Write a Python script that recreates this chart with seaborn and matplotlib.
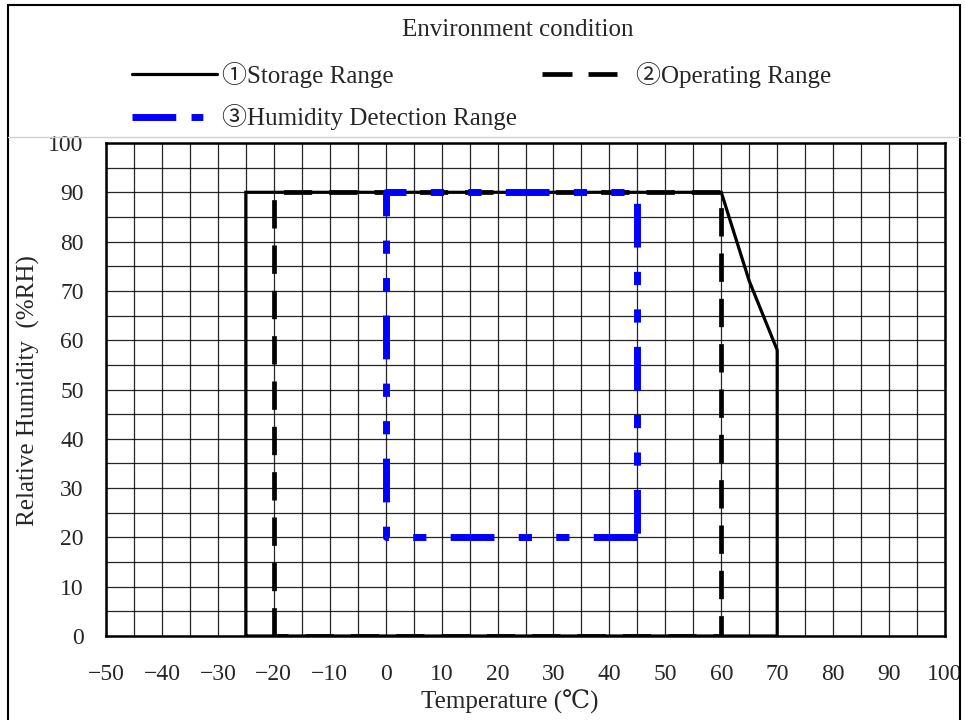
import numpy as np
import matplotlib.pyplot as plt
import seaborn as sns
from matplotlib.lines import Line2D
from matplotlib.patches import Rectangle

# ranges (temperature degC, relative humidity %RH)
storage_t = [-25, -25, 60, 65, 70, 70, -25]
storage_rh = [0, 90, 90, 72, 58, 0, 0]
operating_t = [-20, -20, 60, 60, -20]
operating_rh = [0, 90, 90, 0, 0]
humidity_t = [45, 0, 0, 45, 45]
humidity_rh = [20, 20, 90, 90, 20]

labels = ["①Storage Range", "②Operating Range", "③Humidity Detection Range"]
x_ticks = list(range(-50, 101, 10))
y_ticks = list(range(0, 101, 10))

sns.set_theme(style="white")
plt.rcParams['font.family'] = ['Liberation Serif', 'DejaVu Serif', 'Noto Sans CJK JP']

fig = plt.figure(figsize=(9.65, 7.2), dpi=100)
ax = fig.add_axes([106 / 965, 1 - 636 / 720, 839 / 965, 493 / 720])

blue_dash = (6.3, 3.5, 1.9, 3.5, 1.9, 3.5)

# storage - solid black
sns.lineplot(x=storage_t, y=storage_rh, sort=False, estimator=None, ax=ax,
             color="black", lw=2.3, zorder=3)
ax.lines[-1].set_solid_joinstyle("miter")

# operating - black dashed
sns.lineplot(x=operating_t, y=operating_rh, sort=False, estimator=None, ax=ax,
             color="black", lw=3.4, zorder=4)
ax.lines[-1].set_dashes((6, 3.6))

# humidity detection - blue dashed
sns.lineplot(x=humidity_t, y=humidity_rh, sort=False, estimator=None, ax=ax,
             color="#0000ff", lw=5, zorder=5)
ax.lines[-1].set_dashes(blue_dash)
ax.lines[-1].set_dash_capstyle("butt")

ax.set_xlim(-50, 100)
ax.set_ylim(0, 100)
ax.set_xticks(x_ticks)
ax.set_yticks(y_ticks)
ax.set_xticks(np.arange(-50, 101, 5), minor=True)
ax.set_yticks(np.arange(0, 101, 5), minor=True)
ax.grid(which="both", color="black", lw=0.9, alpha=0.85)
ax.tick_params(which="both", length=0, labelsize=17)
ax.tick_params(axis="x", pad=20)
ax.tick_params(axis="y", pad=16)
for s in ax.spines.values():
    s.set_color("black")
    s.set_linewidth(1.8)

ax.set_xlabel("Temperature (℃)", fontsize=18)
ax.set_ylabel("Relative Humidity  (%RH)", fontsize=18)
ax.xaxis.set_label_coords(404 / 839, -54 / 493)
ax.yaxis.set_label_coords(-66 / 839, (636 - 391) / 493)

fig.text(518 / 965, 1 - 30 / 720, "Environment condition", ha="center", va="center", fontsize=18)

h1 = Line2D([], [], color="black", lw=2.3)
h2 = Line2D([], [], color="black", lw=3.4, dashes=(6.35, 3.4))
h3 = Line2D([], [], color="#0000ff", lw=5, dashes=(6.3, 2.2, 1.7, 10))
fig.legend([h1, h3], [labels[0], labels[2]],
           loc="upper left", bbox_to_anchor=(132 / 965, 1 - 62 / 720),
           frameon=False, fontsize=18, handlelength=3.4, handletextpad=0.2,
           labelspacing=0.65, borderaxespad=0, borderpad=0)
fig.legend([h2], [labels[1]],
           loc="upper left", bbox_to_anchor=(542 / 965, 1 - 62 / 720),
           frameon=False, fontsize=18, handlelength=3.0, handletextpad=0.75,
           borderaxespad=0, borderpad=0)

fig.add_artist(Line2D([8 / 965, 960 / 965], [1 - 137 / 720, 1 - 137 / 720],
                      transform=fig.transFigure, color="#d0d0d0", lw=1))
fig.patches.append(Rectangle((8 / 965, -0.01), 952 / 965, 1.01 - 5 / 720,
                             transform=fig.transFigure, fill=False,
                             edgecolor="black", lw=1.5))

fig.savefig("out.png", dpi=100)
